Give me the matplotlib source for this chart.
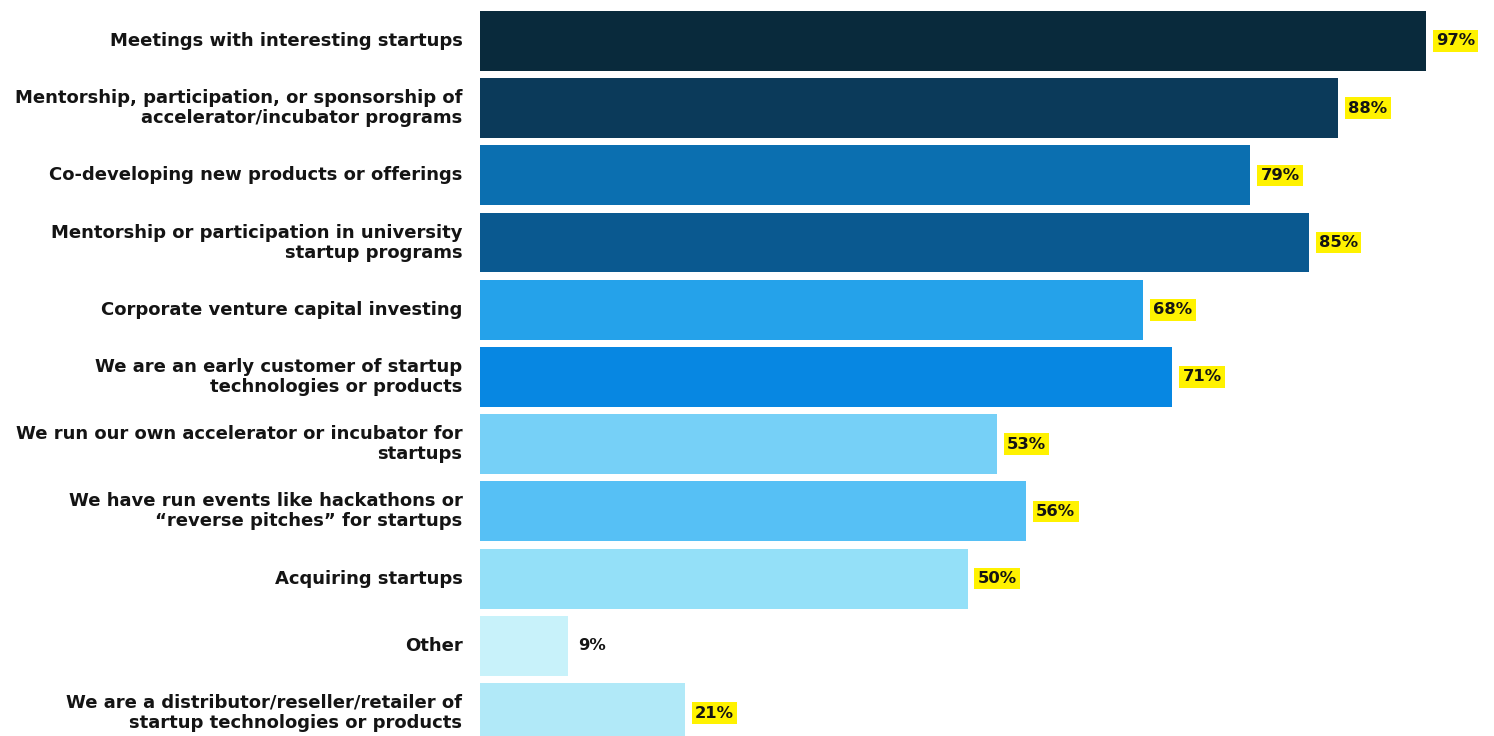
import matplotlib.pyplot as plt

categories = [
    "Meetings with interesting startups",
    "Mentorship, participation, or sponsorship of\naccelerator/incubator programs",
    "Co-developing new products or offerings",
    "Mentorship or participation in university\nstartup programs",
    "Corporate venture capital investing",
    "We are an early customer of startup\ntechnologies or products",
    "We run our own accelerator or incubator for\nstartups",
    "We have run events like hackathons or\n\u201creverse pitches\u201d for startups",
    "Acquiring startups",
    "Other",
    "We are a distributor/reseller/retailer of\nstartup technologies or products",
]
values = [97, 88, 79, 85, 68, 71, 53, 56, 50, 9, 21]
highlighted = [True, True, True, True, True, True, True, True, True, False, True]

colors = ["#092a3c", "#0b3a5a", "#0b6fb0", "#0a5990", "#25a2ea",
          "#0787e2", "#76d0f7", "#56c0f5", "#94e0f8", "#c8f2fa", "#b1e9f8"]

fig = plt.figure(figsize=(14.94, 7.36), dpi=100)
ax = fig.add_axes([480 / 1494, 0, 1 - 480 / 1494, 1])

ypos = list(range(len(values)))
ax.barh(ypos, values, height=0.89, color=colors)
ax.set_xlim(0, 104)
ax.set_ylim(10.342, -0.609)

for y, v, hl in zip(ypos, values, highlighted):
    box = dict(boxstyle="square,pad=0.2", fc="#fff200", ec="none") if hl else None
    ax.text(v + 1.05, y, f"{v}%", va="center", ha="left", fontsize=11.8,
            fontweight="bold", color="#141414", bbox=box)

for y, lab in zip(ypos, categories):
    ax.text(-1.8, y, lab, va="center", ha="right", fontsize=13,
            fontweight="bold", color="#141414", linespacing=1.15,
            clip_on=False)

ax.axis("off")
fig.savefig("out.png", dpi=100)
